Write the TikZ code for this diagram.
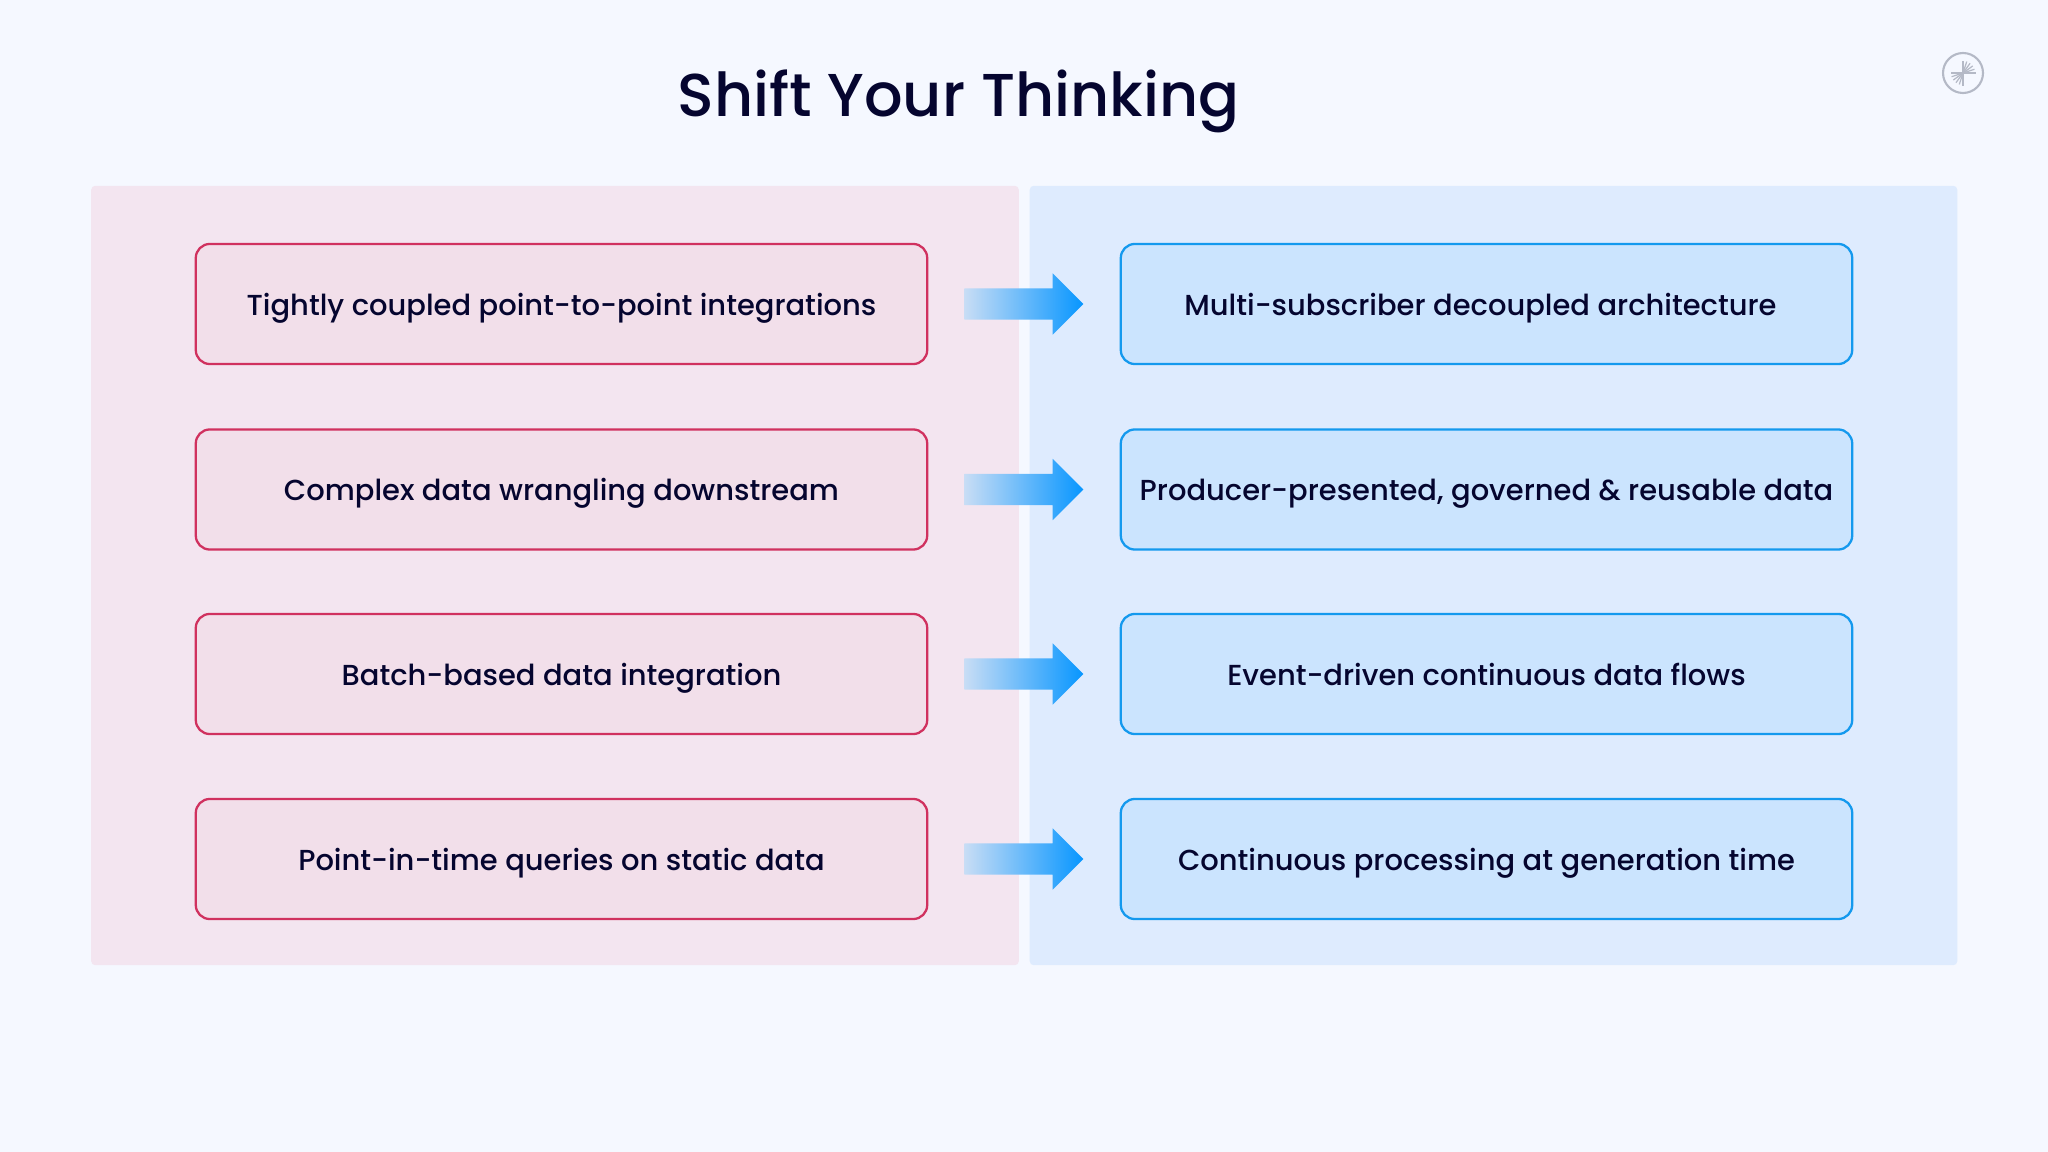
\documentclass[tikz,border=0pt]{standalone}
\usepackage{fontspec}
\setmainfont{Poppins}[UprightFont=* Medium,BoldFont=* SemiBold]
\usetikzlibrary{
  calc,
  shapes.arrows
}
\definecolor{pagebg}{HTML}{F5F8FF}
\definecolor{inkdark}{HTML}{05052F}
\definecolor{panelred}{HTML}{F3E5F0}
\definecolor{panelblue}{HTML}{DEEBFE}
\definecolor{boxred}{HTML}{F2DFEA}
\definecolor{boxblue}{HTML}{CBE4FE}
\definecolor{linered}{HTML}{D0315F}
\definecolor{lineblue}{HTML}{1499EE}
\definecolor{logogray}{HTML}{B4B9C6}
\definecolor{arrowlight}{HTML}{C8DDF5}
\definecolor{arrowfull}{HTML}{0796FF}
\tikzset{
  panel/.style={inner sep=0, rounded corners=0.04cm, minimum height=7.79cm, minimum width=9.27cm},
  oldbox/.style={draw=linered, fill=boxred, line width=0.65pt, rounded corners=0.14cm,
    minimum width=7.31cm, minimum height=1.2cm, inner sep=0, text=inkdark,
    text height=7.7pt, text depth=1.4pt, font=\fontsize{8.23}{10}\selectfont},
  newbox/.style={oldbox, draw=lineblue, fill=boxblue},
  shiftarrow/.style={single arrow, minimum height=1.19cm, inner xsep=0, inner ysep=0.15cm,
    single arrow head extend=0.15cm, single arrow tip angle=90, xshift=-0.08cm,
    left color=arrowlight, right color=arrowfull},
  logoline/.style={logogray, line width=0.35pt}
}
\begin{document}
\begin{tikzpicture}[x=0.01cm, y=-0.01cm]
  \def\Xl{561.5};
  \def\Xr{1486.5};
  \def\Ya{304};
  \def\Yb{489.5};
  \def\Yc{674};
  \def\Yd{859};
  \useasboundingbox (0,0) rectangle (2048,1152);
  \fill[pagebg] (0,0) rectangle (2048,1152);

  \node (title) at (958.5, 101) [text=inkdark, font=\fontsize{17.2}{20}\selectfont] {Shift Your Thinking};

  \node (panelOld) at (555, 575.5) [panel, fill=panelred] {};
  \node (panelNew) at (1493.5, 575.5) [panel, fill=panelblue] {};

  \node (oldA) at (\Xl, \Ya) [oldbox] {Tightly coupled point-to-point integrations};
  \node (oldB) at (\Xl, \Yb) [oldbox] {Complex data wrangling downstream};
  \node (oldC) at (\Xl, \Yc) [oldbox] {Batch-based data integration};
  \node (oldD) at (\Xl, \Yd) [oldbox] {Point-in-time queries on static data};

  \node (newA) at (\Xr, \Ya) [newbox] {\hspace*{-0.12cm}Multi-subscriber decoupled architecture};
  \node (newB) at (\Xr, \Yb) [newbox] {Producer-presented, governed \& reusable data};
  \node (newC) at (\Xr, \Yc) [newbox] {Event-driven continuous data flows};
  \node (newD) at (\Xr, \Yd) [newbox] {Continuous processing at generation time};

  \node (shiftA) at ($(oldA)!0.5!(newA)$) [shiftarrow] {};
  \node (shiftB) at ($(oldB)!0.5!(newB)$) [shiftarrow] {};
  \node (shiftC) at ($(oldC)!0.5!(newC)$) [shiftarrow] {};
  \node (shiftD) at ($(oldD)!0.5!(newD)$) [shiftarrow] {};

  % logo
  \coordinate (logo) at (1963, 73);
  \draw [logogray, line width=0.6pt] (logo) circle (20);
  \draw [logoline, line width=0.5pt] ($(logo)+(-12,0)$) -- ($(logo)+(13,0)$);
  \draw [logoline, line width=0.5pt] ($(logo)+(0,-12)$) -- ($(logo)+(0,13)$);
  \foreach \ang in {108, 126, 144, 162}
    \draw [logoline] (logo) -- ++(\ang:-12);
  \foreach \ang in {288, 306, 324, 342}
    \draw [logoline] (logo) -- ++(\ang:-12);
\end{tikzpicture}
\end{document}
